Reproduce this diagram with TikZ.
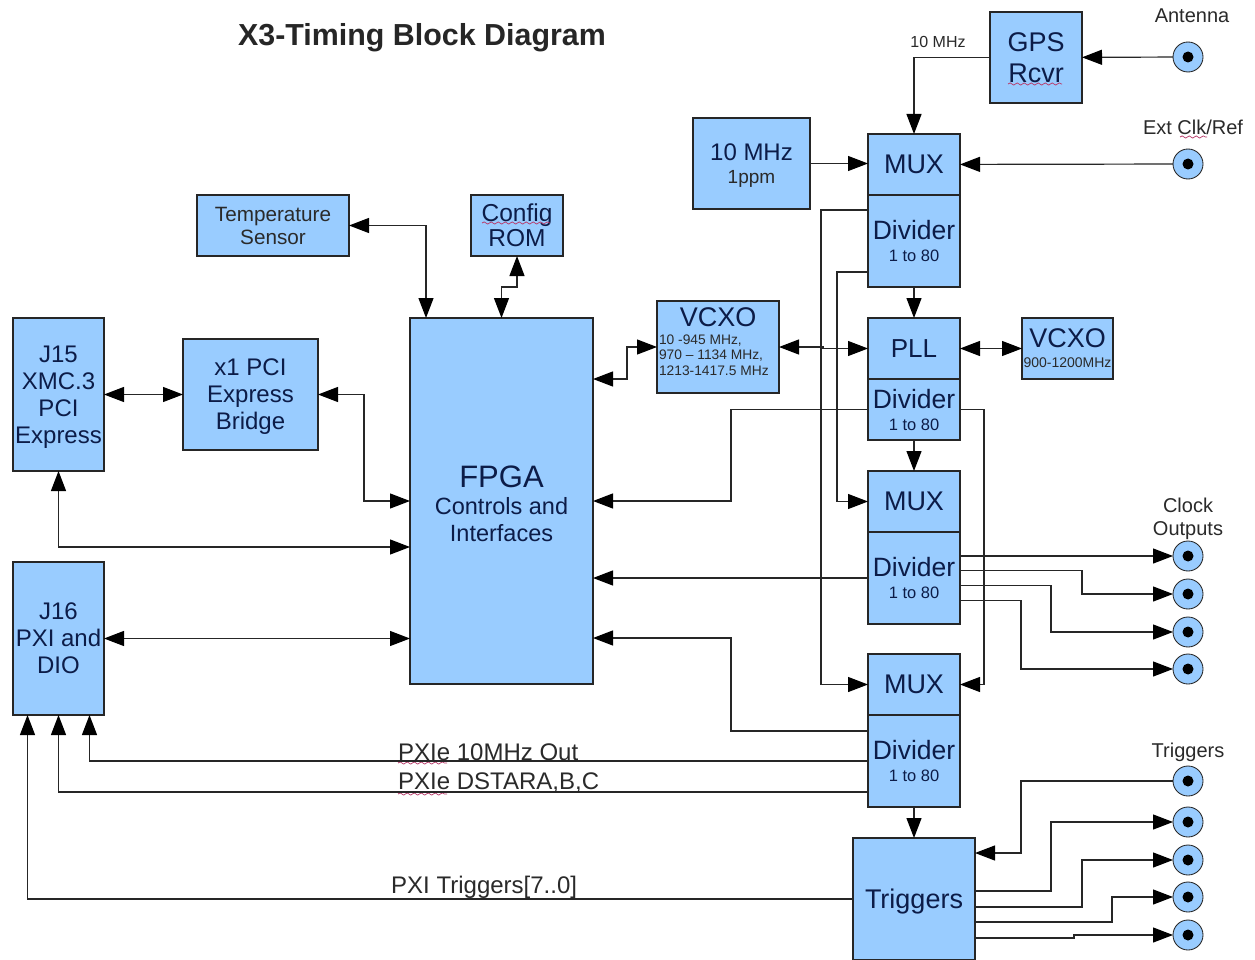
\documentclass[tikz,border=0pt]{standalone}
\usepackage{fontspec}
\setmainfont{Liberation Sans}
\usetikzlibrary{arrows.meta, positioning, decorations.pathmorphing}
\definecolor{blockblue}{HTML}{99CCFF}
\definecolor{blockink}{HTML}{0C1C48}
\definecolor{labelink}{HTML}{2A2A2A}
\definecolor{squigred}{HTML}{B83A6A}
\newcommand{\fsz}[2]{\fontsize{#1pt}{#2pt}\selectfont}
\tikzset{
  % Blocks and wires
  blk/.style 2 args={
    draw=black!85, fill=blockblue, text=blockink, line width=0.42mm
    , minimum width=#1pt, minimum height=#2pt
    , inner sep=0pt, outer sep=0pt, align=center, text depth=0pt
  },
  wire/.style={
    line width = 0.42mm, draw=black!85
  },
  tip/.style={
    wire, -{Triangle[length=20pt,width=15pt,color=black]}
  },
  tips/.style={
    wire, {Triangle[length=20pt,width=15pt,color=black]}-{Triangle[length=20pt,width=15pt,color=black]}
  },
  bnc/.style={
    circle, draw=black!85, fill=blockblue, line width=0.3mm
    , minimum size=30pt, inner sep=0pt, outer sep=0pt
    , path picture={\fill[black] (path picture bounding box.center) circle (5.5pt);}
  },
  lbl/.style={
    text=labelink, inner sep=0pt, align=center
  },
  squig/.style={
    draw=squigred, line width=0.25mm
    , decorate, decoration={snake, segment length=7pt, amplitude=1.1pt}
  },
}
\begin{document}
\begin{tikzpicture}[x=1pt,y=-1pt]
          \useasboundingbox [fill=white] (0,0) rectangle (1255,960);

          \node (title) [lbl, text=black!85, font=\fsz{30.4}{32}\bfseries] at (422,38)
                            {X3-Timing Block Diagram};

          % Left hand side
          \node (temp) [blk={152}{61}, text=labelink, font=\fsz{20.7}{23}] at (273,225.5)
                            {Temperature\\Sensor};
          \node (rom) [blk={92}{61}, font=\fsz{24.5}{25}] at (517,225.5)
                            {Config\\ROM};
          \node (fpga) [blk={183}{366}, font=\fsz{23.5}{27}] at (501.5,501)
                            {\rule{0pt}{27pt}\fsz{31}{44}FPGA\\Controls and\\Interfaces};
          \node (j15) [blk={91}{153}, font=\fsz{24}{27}] at (58.5,394.5)
                            {J15\\XMC.3\\PCI\\Express};
          \node (pci) [blk={135}{111}, font=\fsz{24}{27}] at (250.5,394.5)
                            {x1 PCI\\Express\\Bridge};
          \node (j16) [blk={91}{153}, font=\fsz{24}{27}] at (58.5,638.5)
                            {J16\\PXI and\\DIO};

          % Clock chain
          \node (gps) [blk={92}{91}, font=\fsz{27}{31}] at (1036,57.5)
                            {GPS\\Rcvr};
          \node (osc) [blk={117}{91}, font=\fsz{24}{23}] at (751.5,163.5)
                            {10 MHz\\{\fsz{19}{22}\color{labelink}1ppm}};
          \node (mux1) [blk={92}{61}, font=\fsz{27}{30}] at (914,164.5)
                            {MUX};
          \node (div1) [blk={92}{92}, font=\fsz{26.5}{22}
                       , below=0pt of mux1]
                            {Divider\\{\fsz{16.5}{20}1 to 80}};
          \node (pll) [blk={92}{61}, font=\fsz{26}{27}] at (914,348.5)
                            {PLL};
          \node (div2) [blk={92}{61}, font=\fsz{26.5}{22}
                       , below=0pt of pll]
                            {Divider\\{\fsz{16.5}{20}1 to 80}};
          \node (mux2) [blk={92}{61}, font=\fsz{27}{30}] at (914,501.5)
                            {MUX};
          \node (div3) [blk={92}{92}, font=\fsz{26.5}{22}
                       , below=0pt of mux2]
                            {Divider\\{\fsz{16.5}{20}1 to 80}};
          \node (mux3) [blk={92}{61}, font=\fsz{27}{30}] at (914,684.5)
                            {MUX};
          \node (div4) [blk={92}{92}, font=\fsz{26.5}{22}
                       , below=0pt of mux3]
                            {Divider\\{\fsz{16.5}{20}1 to 80}};
          \node (trig) [blk={122}{122}, font=\fsz{27}{30}] at (914,899)
                            {Triggers};
          \node (vcxoa) [blk={122}{92}, font=\fsz{13.8}{15.6}, align=left, text depth=11pt] at (718,347)
                            {\makebox[118pt]{\fsz{27}{30}VCXO}\\[2pt]
                             {\color{labelink}10 -945 MHz,}\\
                             {\color{labelink}970 -- 1134 MHz,}\\
                             {\color{labelink}1213-1417.5 MHz}};
          \node (vcxob) [blk={91}{61}, font=\fsz{27}{20}] at (1067.5,348.5)
                            {VCXO\\{\fsz{14}{16}\color{labelink}900-1200MHz}};

          % Connectors
          \node (ant) [bnc] at (1188,57) {};
          \node (ext) [bnc] at (1188,164) {};
          \node (clka) [bnc] at (1188,556) {};
          \node (clkb) [bnc] at (1188,594) {};
          \node (clkc) [bnc] at (1188,632) {};
          \node (clkd) [bnc] at (1188,669) {};
          \node (trga) [bnc] at (1188,781) {};
          \node (trgb) [bnc] at (1188,822) {};
          \node (trgc) [bnc] at (1188,860) {};
          \node (trgd) [bnc] at (1188,897) {};
          \node (trge) [bnc] at (1188,935) {};

          % Labels
          \node (antl) [lbl, font=\fsz{20}{23}, above=19pt of ant, xshift=4pt] {Antenna};
          \node (extl) [lbl, font=\fsz{20}{23}, above=14pt of ext, xshift=5pt] {Ext Clk/Ref};
          \node (clkl) [lbl, font=\fsz{20}{23}, above=1pt of clka] {Clock\\Outputs};
          \node (trgl) [lbl, font=\fsz{20}{23}, above=4pt of trga] {Triggers};
          \node (tenl) [lbl, font=\fsz{16}{18}] at (938,42) {10 MHz};
          \node (pxia) [lbl, font=\fsz{24}{26}, anchor=west] at (398,752) {PXIe 10MHz Out};
          \node (pxib) [lbl, font=\fsz{24}{26}, anchor=west] at (398,783) {PXIe DSTARA,B,C};
          \node (pxic) [lbl, font=\fsz{24}{26}, anchor=west] at (391,887) {PXI Triggers[7..0]};

          % Spelling marks
          \draw[squig] (1008,84) -- (1062,84);
          \draw[squig] (482,223) -- (550,223);
          \draw[squig] (1180,137) -- (1207,137);
          \draw[squig] (398,763) -- (447,763);
          \draw[squig] (398,794) -- (447,794);

          % Top of the clock chain
          \draw[tip] (ant) -- (gps);
          \draw[tip] (gps.west) -| (mux1.north);
          \draw[tip] (osc.east) -- (osc.east -| mux1.west);
          \draw[tip] (ext) -- (mux1);
          \draw[tip] (div1) -- (pll);
          \draw[tip] (div2) -- (mux2);
          \draw[tip] (div4) -- (trig);
          \draw[tip] ([yshift=31pt]div1.west) -- ++(-47,0) |- (mux3.west);
          \draw[tip] ([yshift=-31pt]div1.west) -- ++(-31,0) |- (mux2.west);
          \draw[tip] (div2.east) -- ++(24,0) |- (mux3.east);

          \draw[tips] (vcxoa.east) -- ++(44,0) |- (pll.west);
          \draw[tips] (pll) -- (vcxob);

          % Into the FPGA
          \draw[tips] (vcxoa.west) -- ++(-30,0) |- ([yshift=122pt]fpga.east);
          \draw[tip] (div2.west) -- ++(-137,0) |- (fpga.east);
          \draw[tip] (div3.west) -- (div3.west -| fpga.east);
          \draw[tip] ([yshift=30pt]div4.west) -- ++(-137,0) |- ([yshift=-137pt]fpga.east);
          \draw[tips] (temp.east) -| ([xshift=-75.5pt]fpga.north);
          \draw[tips] (rom.south) -- ++(0,31) -| (fpga.north);
          \draw[tips] (j15) -- (pci);
          \draw[tips] (pci.east) -- ++(46,0) |- (fpga.west);
          \draw[tips] (j15.south) |- ([yshift=-46pt]fpga.west);
          \draw[tips] (j16.east) -- (j16.east -| fpga.west);

          % Down to J16
          \draw[tip] (div4.west) -| ([xshift=31pt]j16.south);
          \draw[tip] ([yshift=-31pt]div4.west) -| (j16.south);
          \draw[tip] (trig.west) -| ([xshift=-31pt]j16.south);

          % Clock outputs
          \draw[tip] ([yshift=22pt]div3.east) -- ++(61,0) |- (clka.west);
          \draw[tip] ([yshift=7.5pt]div3.east) -- ++(122,0) |- (clkb.west);
          \draw[tip] ([yshift=-7.5pt]div3.east) -- ++(91,0) |- (clkc.west);
          \draw[tip] ([yshift=-22.5pt]div3.east) -- ++(61,0) |- (clkd.west);

          % Trigger lines
          \draw[tip] (trga.west) -- ++(-152,0) |- ([yshift=46pt]trig.east);
          \draw[tip] ([yshift=8pt]trig.east) -- ++(76,0) |- (trgb.west);
          \draw[tip] ([yshift=-8pt]trig.east) -- ++(107,0) |- (trgc.west);
          \draw[tip] ([yshift=-23pt]trig.east) -- ++(137,0) |- (trgd.west);
          \draw[tip] ([yshift=-39pt]trig.east) -- ++(99,0) |- (trge.west);
      \end{tikzpicture}
\end{document}
